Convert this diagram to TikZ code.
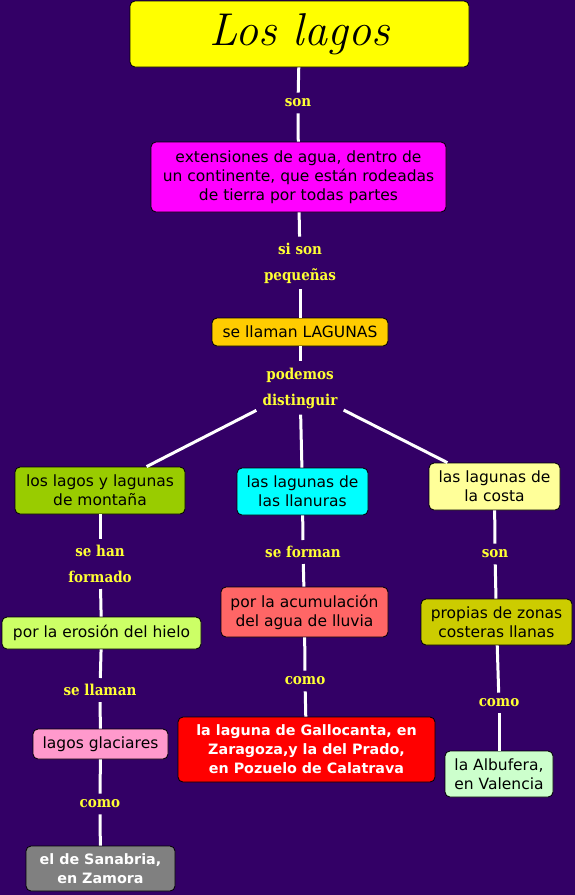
\documentclass[tikz,border=0pt]{standalone}
\usepackage{fontspec}
\newfontfamily\boxfont{DejaVu Sans}
\newfontfamily\labfont{DejaVu Serif Condensed}
\definecolor{bg}{HTML}{330066}
\definecolor{labyellow}{HTML}{FFFF33}
\definecolor{cTitle}{HTML}{FFFF00}
\definecolor{cExt}{HTML}{FF00FF}
\definecolor{cLag}{HTML}{FFCC00}
\definecolor{cMont}{HTML}{99CC00}
\definecolor{cLlan}{HTML}{00FFFF}
\definecolor{cCos}{HTML}{FFFF99}
\definecolor{cEro}{HTML}{CCFF66}
\definecolor{cAcu}{HTML}{FF6666}
\definecolor{cProp}{HTML}{CCCC00}
\definecolor{cGlac}{HTML}{FF99CC}
\definecolor{cGall}{HTML}{FF0000}
\definecolor{cAlbu}{HTML}{CCFFCC}
\definecolor{cSana}{HTML}{808080}
\tikzset{
  concept/.style={draw=black, line width=0.8pt, rounded corners=5pt, align=center,
    inner sep=2pt, font=\boxfont\fontsize{15.5}{19}\selectfont, text=black},
  boldconcept/.style={concept, text=white, font=\boxfont\bfseries\fontsize{14.3}{19}\selectfont},
  linklab/.style={text=labyellow, align=center, inner sep=6pt,
    font=\labfont\bfseries\fontsize{15}{26}\selectfont},
  conn/.style={draw=white, line width=3pt}
}
\begin{document}
\begin{tikzpicture}[x=1pt,y=-1pt]
\fill[bg] (0,0) rectangle (575,895);
\useasboundingbox (0,0) rectangle (575,895);

% concepts
\node[concept, fill=cTitle, minimum width=339pt, minimum height=66pt,
  font=\itshape\fontsize{46}{50}\selectfont] (title) at (299.5,34) {Los lagos};
\node[concept, fill=cExt, minimum width=295pt, minimum height=70pt] (ext) at (298.5,177)
  {extensiones de agua, dentro de\\un continente, que están rodeadas\\de tierra por todas partes};
\node[concept, fill=cLag, minimum width=176pt, minimum height=28pt] (lag) at (300,332) {se llaman LAGUNAS};
\node[concept, fill=cMont, minimum width=170pt, minimum height=47pt] (mont) at (100,490.5) {los lagos y lagunas\\de montaña};
\node[concept, fill=cLlan, minimum width=131pt, minimum height=47pt] (llan) at (302.5,491.5) {las lagunas de\\las llanuras};
\node[concept, fill=cCos, minimum width=131pt, minimum height=47pt] (cos) at (494.5,486.5) {las lagunas de\\la costa};
\node[concept, fill=cEro, minimum width=199pt, minimum height=32pt] (ero) at (101.5,633) {por la erosión del hielo};
\node[concept, fill=cAcu, minimum width=167pt, minimum height=50pt] (acu) at (304.5,612) {por la acumulación\\del agua de lluvia};
\node[concept, fill=cProp, minimum width=151pt, minimum height=46pt] (prop) at (496.5,622) {propias de zonas\\costeras llanas};
\node[concept, fill=cGlac, minimum width=135pt, minimum height=30pt] (glac) at (100.5,744) {lagos glaciares};
\node[boldconcept, fill=cGall, minimum width=257pt, minimum height=65pt] (gall) at (306.5,749.5)
  {la laguna de Gallocanta, en\\Zaragoza,y la del Prado,\\en Pozuelo de Calatrava};
\node[concept, fill=cAlbu, minimum width=108pt, minimum height=46pt] (albu) at (499,774) {la Albufera,\\en Valencia};
\node[boldconcept, fill=cSana, minimum width=149pt, minimum height=45pt] (sana) at (100.5,868.5) {el de Sanabria,\\en Zamora};

% link labels
\node[linklab] (l1) at (298,103) {son};
\node[linklab] (l2) at (300,263) {si son\\pequeñas};
\node[linklab] (l3) at (300,388) {podemos\\distinguir};
\node[linklab] (l4) at (100,564) {se han\\formado};
\node[linklab] (l5) at (303,552) {se forman};
\node[linklab] (l6) at (495,554) {son};
\node[linklab] (l7) at (100,690) {se llaman};
\node[linklab] (l8) at (305,681) {como};
\node[linklab] (l9) at (499,703) {como};
\node[linklab] (l10) at (100,804) {como};

% connectors
\draw[conn] (title) -- (l1);
\draw[conn] (l1) -- (ext);
\draw[conn] (ext) -- (l2);
\draw[conn] (l2) -- (lag);
\draw[conn] (lag) -- (l3);
\draw[conn] (l3) -- (mont);
\draw[conn] (l3) -- (llan);
\draw[conn] (l3) -- (cos);
\draw[conn] (mont) -- (l4);
\draw[conn] (l4) -- (ero);
\draw[conn] (ero) -- (l7);
\draw[conn] (l7) -- (glac);
\draw[conn] (glac) -- (l10);
\draw[conn] (l10) -- (sana);
\draw[conn] (llan) -- (l5);
\draw[conn] (l5) -- (acu);
\draw[conn] (acu) -- (l8);
\draw[conn] (l8) -- (gall);
\draw[conn] (cos) -- (l6);
\draw[conn] (l6) -- (prop);
\draw[conn] (prop) -- (l9);
\draw[conn] (l9) -- (albu);
\end{tikzpicture}
\end{document}
